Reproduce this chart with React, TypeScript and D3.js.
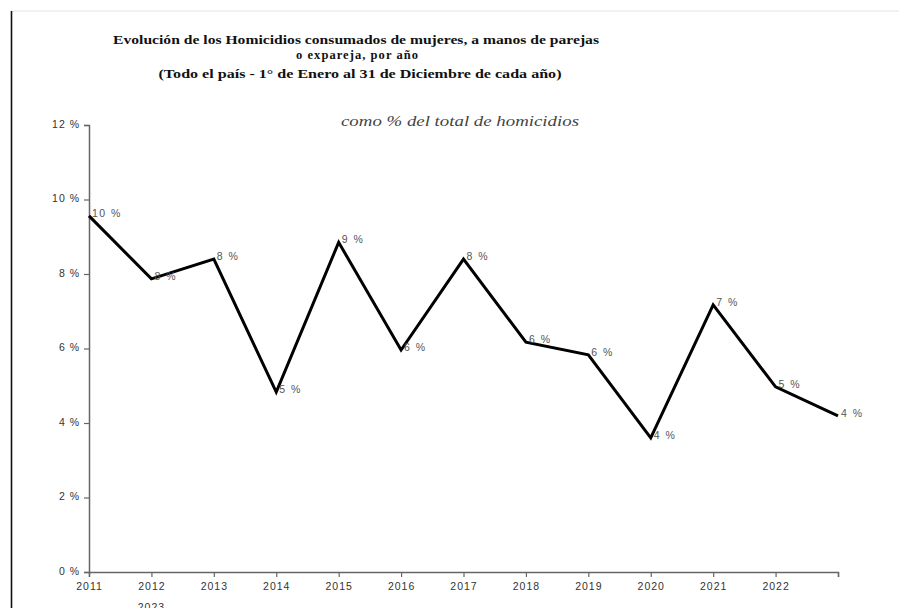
import * as d3 from 'd3';
import React, { useEffect, useRef } from 'react';

// Data
const years: string[] = ['2011', '2012', '2013', '2014', '2015', '2016', '2017', '2018', '2019', '2020', '2021', '2022', '2023'];
const tickLabels: string[] = ['2011', '2012', '2013', '2014', '2015', '2016', '2017', '2018', '2019', '2020', '2021', '2022', ''];
const values: number[] = [9.56, 7.87, 8.4, 4.83, 8.85, 5.96, 8.4, 6.17, 5.83, 3.6, 7.17, 4.97, 4.19];
const valueLabels: string[] = ['10 %', '8 %', '8 %', '5 %', '9 %', '6 %', '8 %', '6 %', '6 %', '4 %', '7 %', '5 %', '4 %'];
const yTicks: number[] = [0, 2, 4, 6, 8, 10, 12];

const titleLines: string[] = [
  'Evolución de los Homicidios consumados de mujeres, a manos de parejas',
  'o expareja, por año',
  '(Todo el país - 1° de Enero al 31 de Diciembre de cada año)',
];
const subtitle = 'como % del total de homicidios';

export default function App() {
  const svgRef = useRef<SVGSVGElement | null>(null);

  const width = 899;
  const height = 608;

  useEffect(() => {
    const svg = d3.select(svgRef.current);
    svg.selectAll('*').remove();

    const sans = 'Liberation Sans, Arial, sans-serif';
    const serif = 'Liberation Serif, Times New Roman, serif';

    // frame lines (top and left)
    svg.append('line')
      .attr('x1', 11).attr('x2', width).attr('y1', 11).attr('y2', 11)
      .attr('stroke', '#e4e4e4').attr('stroke-width', 1);
    svg.append('line')
      .attr('x1', 11.5).attr('x2', 11.5).attr('y1', 11).attr('y2', height)
      .attr('stroke', '#111').attr('stroke-width', 1.6);

    // TITLE
    const title = svg.append('g')
      .attr('font-family', serif)
      .attr('font-weight', 'bold')
      .attr('font-size', 13.5)
      .attr('fill', '#111')
      .attr('text-anchor', 'middle');
    title.append('text').attr('x', 356).attr('y', 44)
      .attr('textLength', 486).attr('lengthAdjust', 'spacingAndGlyphs')
      .text(titleLines[0]);
    title.append('text').attr('x', 357).attr('y', 59)
      .attr('font-size', 12.5)
      .attr('textLength', 122).attr('lengthAdjust', 'spacing')
      .text(titleLines[1]);
    title.append('text').attr('x', 360).attr('y', 78)
      .attr('textLength', 403).attr('lengthAdjust', 'spacingAndGlyphs')
      .text(titleLines[2]);

    svg.append('text')
      .attr('x', 460).attr('y', 126)
      .attr('text-anchor', 'middle')
      .attr('font-family', serif)
      .attr('font-style', 'italic')
      .attr('font-size', 14)
      .attr('fill', '#444')
      .attr('textLength', 238).attr('lengthAdjust', 'spacingAndGlyphs')
      .text(subtitle);

    // SCALES
    const x = d3.scalePoint<string>().domain(years).range([89, 838]);
    const y = d3.scaleLinear().domain([0, 12]).range([572, 125]);

    // Y AXIS
    const yAxis = svg.append('g')
      .attr('transform', 'translate(89,0)')
      .call(d3.axisLeft(y).tickValues(yTicks).tickSize(5).tickPadding(4).tickFormat((d) => d + ' %'));
    yAxis.select('.domain').attr('stroke', '#666').attr('stroke-width', 1.5);
    yAxis.selectAll('.tick line').attr('stroke', '#666').attr('stroke-width', 1.2);
    yAxis.selectAll('.tick text')
      .attr('font-family', sans).attr('font-size', 10.5).attr('fill', '#333')
      .attr('letter-spacing', 1)
      .attr('dy', '0.2em');

    // X AXIS
    const xAxis = svg.append('g')
      .attr('transform', 'translate(0,572)')
      .call(d3.axisBottom(x).tickSize(5).tickPadding(6).tickFormat((d, i) => tickLabels[i]));
    xAxis.select('.domain').attr('stroke', '#666').attr('stroke-width', 1.5);
    xAxis.selectAll('.tick line').attr('stroke', '#666').attr('stroke-width', 1.2);
    xAxis.selectAll('.tick text')
      .attr('font-family', sans).attr('font-size', 10.5).attr('fill', '#333')
      .attr('letter-spacing', 1);

    // stray overlapping label, cut off at the bottom edge
    svg.append('text')
      .attr('x', x('2012')).attr('y', 611)
      .attr('text-anchor', 'middle')
      .attr('font-family', sans).attr('font-size', 10.5).attr('fill', '#333')
      .attr('letter-spacing', 1)
      .text('2023');

    // LINE
    const line = d3.line<number>()
      .x((d, i) => x(years[i]) as number)
      .y((d) => y(d));
    svg.append('path')
      .datum(values)
      .attr('d', line)
      .attr('fill', 'none')
      .attr('stroke', '#000')
      .attr('stroke-width', 3)
      .attr('stroke-linejoin', 'miter');

    // VALUE LABELS
    svg.append('g')
      .selectAll('text')
      .data(values)
      .enter()
      .append('text')
      .attr('x', (d, i) => (x(years[i]) as number) + 3)
      .attr('y', (d) => y(d) + 1)
      .attr('font-family', sans)
      .attr('font-size', 10.5)
      .attr('letter-spacing', 1.5)
      .attr('fill', '#555')
      .text((d, i) => valueLabels[i]);
  }, []);

  return (
    <svg ref={svgRef} width={width} height={height}
      style={{ position: 'absolute', left: 0, top: 0, background: '#fff' }} />
  );
}
